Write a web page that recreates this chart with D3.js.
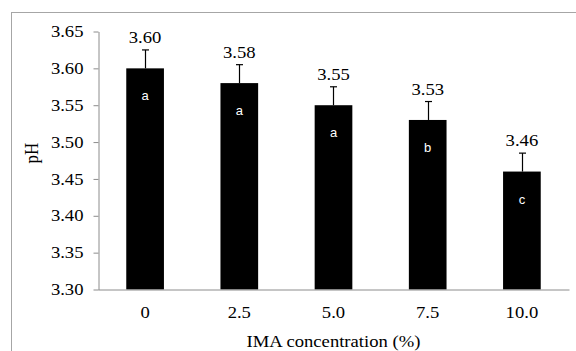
<!DOCTYPE html>
<html>
<head>
<meta charset="utf-8">
<script src="https://cdn.jsdelivr.net/npm/d3@7"></script>
<style>
  html, body { margin: 0; padding: 0; background: #fff; }
  svg { display: block; }
  text { font-family: "Liberation Serif", "Times New Roman", serif; fill: #000; }
</style>
</head>
<body>
<svg id="chart" width="576" height="351"></svg>
<script>
// pH of samples by IMA concentration
const categories = ["0", "2.5", "5.0", "7.5", "10.0"];
const phValues = [3.60, 3.58, 3.55, 3.53, 3.46];
const phErrors = [0.025, 0.025, 0.025, 0.025, 0.025];
const groupLetters = ["a", "a", "a", "b", "c"];
const yTicks = [3.30, 3.35, 3.40, 3.45, 3.50, 3.55, 3.60, 3.65];

const W = 576, H = 351;
const plot = { left: 98, right: 569, top: 31.5, bottom: 289.5 };
const fontSize = 16.5;
const stretch = 1.13;           // horizontal text stretch
const axisColor = "#8c8c8c";

const svg = d3.select("#chart");

// outer chart frame (continues past the page edge)
svg.append("rect")
  .attr("x", 11.5).attr("y", 12.5)
  .attr("width", W + 10).attr("height", H + 10)
  .attr("fill", "none").attr("stroke", "#a6a6a6").attr("stroke-width", 1);

const x = d3.scaleBand()
  .domain(categories)
  .range([plot.left, plot.right])
  .paddingInner(0.6).paddingOuter(0.3);

const y = d3.scaleLinear()
  .domain([3.30, 3.65])
  .range([plot.bottom, plot.top]);

const data = categories.map((c, i) => ({
  cat: c, v: phValues[i], e: phErrors[i], g: groupLetters[i]
}));

// bars
svg.append("g").selectAll("rect")
  .data(data).join("rect")
  .attr("x", d => x(d.cat))
  .attr("y", d => y(d.v))
  .attr("width", x.bandwidth())
  .attr("height", d => y(3.30) - y(d.v))
  .attr("fill", "#000");

// error bars (upper whisker)
const eb = svg.append("g").attr("stroke", "#000").attr("stroke-width", 1.2);
data.forEach(d => {
  const cx = Math.round(x(d.cat) + x.bandwidth() / 2) + 0.5;
  eb.append("line").attr("x1", cx).attr("x2", cx)
    .attr("y1", y(d.v)).attr("y2", y(d.v + d.e));
  eb.append("line").attr("x1", cx - 3.5).attr("x2", cx + 3.5)
    .attr("y1", y(d.v + d.e)).attr("y2", y(d.v + d.e));
});

// value labels above whiskers
svg.append("g").selectAll("text")
  .data(data).join("text")
  .attr("transform", d => `translate(${x(d.cat) + x.bandwidth() / 2},${y(d.v + d.e) - 7}) scale(${stretch},1)`)
  .attr("text-anchor", "middle")
  .attr("font-size", fontSize)
  .text(d => d.v.toFixed(2));

// significance letters inside bars
svg.append("g").selectAll("text")
  .data(data).join("text")
  .attr("x", d => x(d.cat) + x.bandwidth() / 2)
  .attr("y", d => y(d.v) + 32)
  .attr("text-anchor", "middle")
  .attr("font-size", 13)
  .style("font-family", "'Liberation Sans', Arial, sans-serif")
  .style("fill", "#fff")
  .text(d => d.g);

// y axis
const gy = svg.append("g")
  .attr("transform", `translate(${plot.left + 0.5},0)`)
  .call(d3.axisLeft(y).tickValues(yTicks).tickFormat(d3.format(".2f")).tickSize(5).tickSizeOuter(0));
gy.select(".domain").attr("stroke", axisColor);
gy.selectAll(".tick line").attr("stroke", axisColor);
gy.selectAll(".tick text")
  .attr("x", null).attr("dy", null)
  .attr("font-size", fontSize)
  .attr("font-family", "'Liberation Serif', 'Times New Roman', serif")
  .attr("transform", `translate(-15,5.2) scale(${stretch},1)`);

// x axis
const gx = svg.append("g")
  .attr("transform", `translate(0,${plot.bottom})`)
  .call(d3.axisBottom(x).tickSize(0).tickSizeOuter(0));
gx.select(".domain").attr("stroke", axisColor);
gx.selectAll(".tick text")
  .attr("y", null).attr("dy", null)
  .attr("font-size", fontSize)
  .attr("font-family", "'Liberation Serif', 'Times New Roman', serif")
  .attr("transform", `translate(0,28.5) scale(${stretch},1)`);

// axis titles
svg.append("text")
  .attr("transform", `translate(${(plot.left + plot.right) / 2},346.5) scale(${stretch},1)`)
  .attr("text-anchor", "middle")
  .attr("font-size", fontSize)
  .text("IMA concentration (%)");

svg.append("text")
  .attr("transform", `translate(38,153) rotate(-90) scale(1,${stretch})`)
  .attr("text-anchor", "middle")
  .attr("font-size", 17)
  .text("pH");
</script>
</body>
</html>
